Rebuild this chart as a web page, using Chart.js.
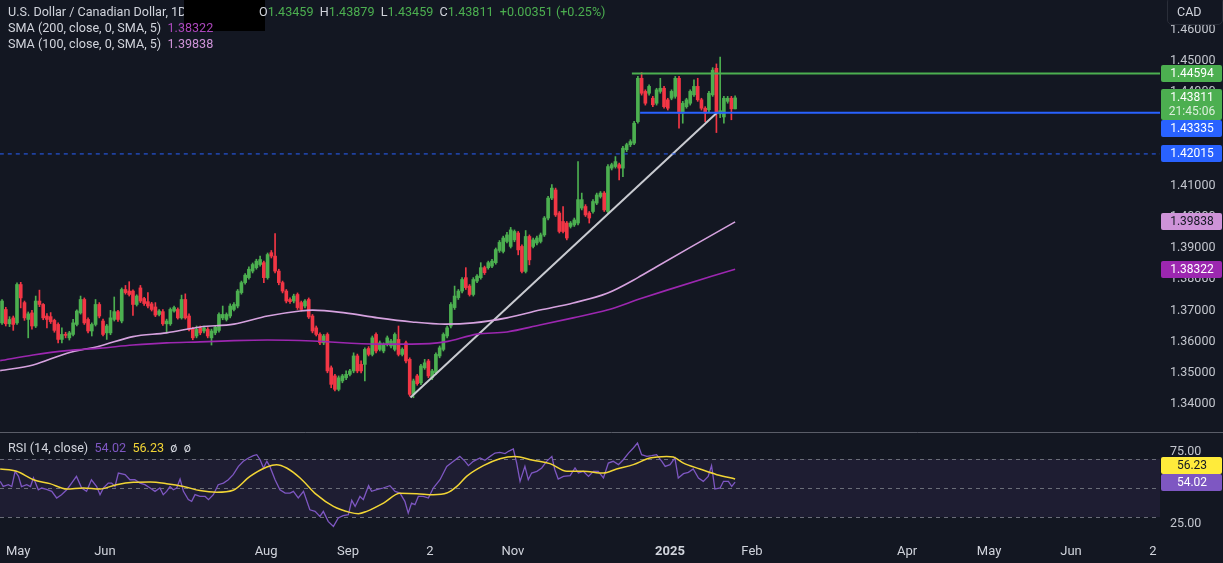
<!DOCTYPE html>
<html>
<head>
<meta charset="utf-8">
<script src="https://cdn.jsdelivr.net/npm/chart.js@4.4.1/dist/chart.umd.min.js"></script>
<style>
  body { margin: 0; background: #131722; overflow: hidden; }
  #wrap { position: relative; width: 1223px; height: 563px; }
  canvas { position: absolute; left: 0; top: 0; }
  .lg { position: absolute; left: 8px; font: 12.6px Roboto, sans-serif; color: #d1d4dc; white-space: nowrap; line-height: 16px; }
  .g { color: #4caf50; }
  .redact { position: absolute; left: 184px; top: 0; width: 81px; height: 31px; background: #000; }
  .cur { position: absolute; left: 1167px; top: -3px; width: 54px; height: 26px; border: 1px solid #2a2e39; border-radius: 5px;
         font: 12.5px Roboto, sans-serif; color: #d1d4dc; line-height: 28px; text-indent: 9px; }
</style>
</head>
<body>
<div id="wrap">
  <canvas id="chart" width="1223" height="563"></canvas>
  <div class="lg" style="top:4px">U.S. Dollar / Canadian Dollar, 1D</div>
  <div class="redact"></div>
  <div class="lg" style="top:4px;left:259px">O<span class="g">1.43459</span>&nbsp; H<span class="g">1.43879</span>&nbsp; L<span class="g">1.43459</span>&nbsp; C<span class="g">1.43811</span>&nbsp; <span class="g">+0.00351 (+0.25%)</span></div>
  <div class="lg" style="top:20px">SMA (200, close, 0, SMA, 5)&nbsp; <span style="color:#ab47bc">1.38322</span></div>
  <div class="lg" style="top:36px">SMA (100, close, 0, SMA, 5)&nbsp; <span style="color:#ce93d8">1.39838</span></div>
  <div class="lg" style="top:440px">RSI (14, close)&nbsp; <span style="color:#7e57c2">54.02</span>&nbsp; <span style="color:#f2d535">56.23</span>&nbsp; ø&nbsp; ø</div>
  <div class="cur">CAD</div>
</div>
<script>
// daily candles, first one sits at bar -4 (bar 0 = 1 May 2024)
const firstBar = -4;
const opens = [
  1.3660,1.3703,1.3657,1.3676,
  1.3660,1.3783,1.3725,1.3671,1.3692,1.3650,1.3730,1.3719,1.3682,1.3680,
  1.3668,1.3655,1.3607,1.3623,1.3612,1.3623,1.3655,1.3692,1.3735,1.3671,
  1.3634,1.3655,1.3719,1.3666,1.3628,1.3628,1.3671,1.3696,1.3666,1.3767,
  1.3762,1.3762,1.3719,1.3772,1.3738,1.3728,1.3721,1.3711,1.3687,1.3696,
  1.3657,1.3657,1.3698,1.3703,1.3676,1.3735,1.3682,1.3642,1.3618,1.3644,
  1.3634,1.3639,1.3612,1.3628,1.3636,1.3676,1.3671,1.3682,1.3703,1.3714,
  1.3757,1.3789,1.3805,1.3826,1.3837,1.3847,1.3853,1.3805,1.3885,1.3874,
  1.3826,1.3789,1.3762,1.3735,1.3730,1.3751,1.3725,1.3714,1.3735,1.3682,
  1.3644,1.3623,1.3596,1.3623,1.3516,1.3490,1.3447,1.3474,1.3484,1.3495,
  1.3506,1.3554,1.3527,1.3527,1.3578,1.3559,1.3623,1.3575,1.3570,1.3591,
  1.3586,1.3575,1.3607,1.3559,1.3596,1.3543,1.3431,1.3490,1.3468,1.3516,
  1.3538,1.3484,1.3500,1.3554,1.3575,1.3618,1.3650,1.3709,1.3741,1.3762,
  1.3805,1.3778,1.3751,1.3794,1.3805,1.3837,1.3837,1.3842,1.3853,1.3892,
  1.3889,1.3921,1.3905,1.3926,1.3948,1.3905,1.3825,1.3937,1.3905,1.3916,
  1.3921,1.3942,1.3996,1.4060,1.4086,1.4012,1.3985,1.3980,1.3969,1.3974,
  1.3980,1.4028,1.4033,1.4012,1.4017,1.4044,1.4065,1.4076,1.4017,1.4156,
  1.4161,1.4167,1.4156,1.4215,1.4231,1.4236,1.4305,1.4444,1.4402,1.4396,
  1.4380,1.4364,1.4402,1.4412,1.4375,1.4380,1.4386,1.4444,1.4332,1.4353,
  1.4364,1.4391,1.4418,1.4375,1.4348,1.4343,1.4391,1.4476,1.4330,1.4320,
  1.4370,1.4380,1.43459
];
const highs = [
  1.3735,1.3710,1.3680,1.3682,
  1.3788,1.3790,1.3730,1.3695,1.3700,1.3746,1.3765,1.3722,1.3690,1.3693,
  1.3672,1.3660,1.3644,1.3630,1.3633,1.3671,1.3702,1.3746,1.3740,1.3676,
  1.3660,1.3735,1.3725,1.3672,1.3655,1.3700,1.3743,1.3700,1.3772,1.3780,
  1.3792,1.3766,1.3750,1.3780,1.3742,1.3757,1.3726,1.3725,1.3703,1.3703,
  1.3672,1.3708,1.3714,1.3708,1.3749,1.3753,1.3689,1.3646,1.3650,1.3650,
  1.3650,1.3645,1.3640,1.3652,1.3692,1.3714,1.3692,1.3721,1.3725,1.3767,
  1.3794,1.3818,1.3840,1.3852,1.3864,1.3874,1.3858,1.3884,1.3892,1.3946,
  1.3832,1.3794,1.3767,1.3740,1.3752,1.3756,1.3730,1.3735,1.3740,1.3687,
  1.3650,1.3628,1.3623,1.3628,1.3522,1.3495,1.3490,1.3495,1.3506,1.3511,
  1.3564,1.3560,1.3538,1.3580,1.3584,1.3618,1.3628,1.3602,1.3596,1.3618,
  1.3607,1.3628,1.3650,1.3580,1.3602,1.3548,1.3480,1.3495,1.3527,1.3543,
  1.3543,1.3511,1.3564,1.3586,1.3628,1.3650,1.3725,1.3778,1.3767,1.3805,
  1.3837,1.3783,1.3805,1.3815,1.3853,1.3842,1.3858,1.3864,1.3900,1.3924,
  1.3938,1.3950,1.3966,1.3958,1.3953,1.3910,1.3956,1.3942,1.3932,1.3938,
  1.3948,1.4001,1.4066,1.4103,1.4092,1.4017,1.4033,1.3985,1.3985,1.3996,
  1.4177,1.4076,1.4039,1.4017,1.4055,1.4076,1.4081,1.4081,1.4167,1.4172,
  1.4193,1.4172,1.4226,1.4236,1.4247,1.4306,1.4450,1.4462,1.4407,1.4423,
  1.4386,1.4412,1.4444,1.4418,1.4380,1.4407,1.4450,1.4450,1.4370,1.4380,
  1.4407,1.4439,1.4444,1.4380,1.4353,1.4402,1.4478,1.4490,1.4512,1.4386,
  1.4386,1.4386,1.43879
];
const lows = [
  1.3655,1.3650,1.3648,1.3636,
  1.3655,1.3708,1.3668,1.3612,1.3640,1.3645,1.3712,1.3670,1.3644,1.3658,
  1.3630,1.3596,1.3596,1.3612,1.3605,1.3618,1.3650,1.3688,1.3655,1.3628,
  1.3618,1.3650,1.3676,1.3618,1.3607,1.3622,1.3666,1.3665,1.3660,1.3752,
  1.3746,1.3684,1.3714,1.3725,1.3716,1.3708,1.3698,1.3680,1.3682,1.3652,
  1.3628,1.3652,1.3694,1.3672,1.3672,1.3672,1.3634,1.3606,1.3612,1.3622,
  1.3628,1.3612,1.3589,1.3622,1.3630,1.3670,1.3666,1.3676,1.3698,1.3708,
  1.3752,1.3784,1.3800,1.3820,1.3832,1.3842,1.3789,1.3800,1.3868,1.3820,
  1.3782,1.3756,1.3724,1.3722,1.3724,1.3703,1.3698,1.3708,1.3674,1.3628,
  1.3618,1.3590,1.3590,1.3500,1.3452,1.3442,1.3442,1.3468,1.3478,1.3490,
  1.3500,1.3500,1.3500,1.3474,1.3554,1.3554,1.3564,1.3570,1.3564,1.3586,
  1.3580,1.3570,1.3554,1.3554,1.3532,1.3425,1.3420,1.3460,1.3462,1.3511,
  1.3484,1.3478,1.3495,1.3548,1.3570,1.3612,1.3644,1.3703,1.3735,1.3756,
  1.3767,1.3746,1.3746,1.3789,1.3800,1.3815,1.3832,1.3837,1.3848,1.3886,
  1.3884,1.3916,1.3900,1.3920,1.3878,1.3820,1.3820,1.3846,1.3900,1.3910,
  1.3916,1.3937,1.3990,1.4055,1.4001,1.3948,1.3948,1.3926,1.3964,1.3969,
  1.3974,1.4022,1.4001,1.3980,1.4012,1.4039,1.4060,1.4017,1.4012,1.4150,
  1.4156,1.4118,1.4129,1.4209,1.4225,1.4231,1.4300,1.4390,1.4358,1.4390,
  1.4353,1.4358,1.4396,1.4348,1.4342,1.4375,1.4380,1.4284,1.4300,1.4348,
  1.4358,1.4386,1.4370,1.4342,1.4305,1.4337,1.4386,1.4270,1.4318,1.4300,
  1.4364,1.4311,1.43459
];
const closes = [
  1.3730,1.3657,1.3671,1.3655,
  1.3783,1.3740,1.3676,1.3689,1.3650,1.3730,1.3719,1.3676,1.3671,1.3664,
  1.3636,1.3607,1.3623,1.3620,1.3628,1.3660,1.3698,1.3735,1.3660,1.3634,
  1.3655,1.3719,1.3682,1.3623,1.3650,1.3676,1.3696,1.3671,1.3767,1.3757,
  1.3751,1.3719,1.3746,1.3730,1.3722,1.3714,1.3703,1.3685,1.3698,1.3657,
  1.3666,1.3703,1.3709,1.3676,1.3735,1.3676,1.3639,1.3612,1.3639,1.3628,
  1.3644,1.3618,1.3634,1.3646,1.3687,1.3687,1.3687,1.3714,1.3719,1.3762,
  1.3789,1.3813,1.3832,1.3847,1.3858,1.3863,1.3805,1.3879,1.3874,1.3826,
  1.3789,1.3762,1.3730,1.3728,1.3746,1.3709,1.3703,1.3730,1.3679,1.3634,
  1.3623,1.3596,1.3618,1.3506,1.3463,1.3447,1.3484,1.3490,1.3495,1.3506,
  1.3554,1.3506,1.3506,1.3575,1.3559,1.3612,1.3570,1.3596,1.3591,1.3612,
  1.3602,1.3623,1.3559,1.3575,1.3538,1.3431,1.3474,1.3465,1.3522,1.3532,
  1.3490,1.3506,1.3559,1.3580,1.3623,1.3644,1.3719,1.3746,1.3762,1.3799,
  1.3773,1.3751,1.3799,1.3810,1.3837,1.3821,1.3853,1.3858,1.3895,1.3918,
  1.3932,1.3942,1.3958,1.3953,1.3894,1.3825,1.3937,1.3862,1.3926,1.3932,
  1.3942,1.3996,1.4060,1.4092,1.4006,1.3953,1.3953,1.3932,1.3980,1.3990,
  1.4055,1.4055,1.4006,1.3996,1.4049,1.4070,1.4076,1.4022,1.4161,1.4167,
  1.4177,1.4156,1.4220,1.4231,1.4241,1.4300,1.4444,1.4396,1.4364,1.4418,
  1.4359,1.4407,1.4412,1.4353,1.4348,1.4402,1.4444,1.4332,1.4364,1.4375,
  1.4402,1.4418,1.4375,1.4348,1.4332,1.4396,1.4470,1.4335,1.4340,1.4380,
  1.4380,1.4346,1.43811
];

// moving averages (bar position, value)
const sma100At  = [-4.5, 4.3, 13.4, 22.2, 31, 40, 49, 58, 67, 75.7, 79, 87.7, 96.5, 105.6, 114.4, 122, 131, 139.8, 148.7, 157.8, 166, 171, 180, 192];
const sma100Val = [1.3507, 1.3525, 1.3563, 1.3586, 1.3616, 1.3628, 1.3647, 1.3656, 1.3682, 1.3698, 1.3701, 1.3692, 1.3676, 1.3663, 1.3656, 1.3660, 1.3676, 1.3701, 1.3724, 1.3755, 1.3805, 1.3840, 1.3902, 1.39838];
const sma200At  = [-4.5, 4.3, 13.4, 22.2, 31, 40, 49, 58, 67, 79, 96.5, 105.6, 114.4, 123, 131, 139.8, 148.7, 157.8, 166.6, 173.8, 192];
const sma200Val = [1.3539, 1.3557, 1.3571, 1.3579, 1.3589, 1.3596, 1.3599, 1.3603, 1.3605, 1.3602, 1.3592, 1.3592, 1.3599, 1.3624, 1.3631, 1.3653, 1.3676, 1.3701, 1.3737, 1.3765, 1.38322];

// drawn levels and trend line
const levelValues = [1.44594, 1.43335, 1.42015];
const levelFrom   = [164.4, 166.6, -4.6];
const trendAt  = [105.2, 187.2];
const trendVal = [1.3421, 1.4334];

// RSI (14) and its moving average
const rsiAt = [-4.5,-3.7,-2.3,-1.4,-0.5,0.4,1.2,2.6,3.6,4.4,5.7,6.6,7.9,9.3,10.6,11.9,13.3,14.6,15.9,17.3,18.6,19.9,21.3,22.2,23.1,24.4,25.3,26.2,27.1,28.9,
  30.2,31.5,32.9,34.2,35.6,36.9,38.2,39.1,40,40.9,41.8,42.7,43.6,44.5,45.8,46.7,47.6,48.9,50.3,51.2,52.5,53.8,55.2,56.5,57.8,59.2,60.5,61.9,63.2,64.1,
  65,65.9,66.8,67.6,69,70.3,71.7,73,73.9,75.2,76.6,78.3,79.7,81,81.9,83.2,84.6,85.9,87.2,88.6,89.5,90.4,91.7,92.6,94,94.8,96.2,97.9,99.7,101.1,
  102.4,103.7,104.6,105.5,106.4,107.3,108.6,110,111.3,113.1,114.9,116.7,118.4,119.8,120.7,122,123.8,125.1,126.5,127.8,129.1,130.5,131.4,132.7,133.6,134.5,135.8,136.7,137.6,139,
  140.3,141.6,143,143.8,144.7,146.1,147.9,149.2,150.1,151.4,152.8,154.1,155.4,156.8,158.1,159.4,160.8,162.1,163.5,164.8,165.9,167,168.4,169.7,171,172.4,173.3,174.6,175.9,176.8,
  178.2,179.5,180.8,182.2,183.5,184.8,185.7,186.6,188,188.9,190.2,191.1,192];
const rsiVal = [54.6,51.1,52.3,51.0,61.5,58.0,51.0,52.3,51.0,57.0,48.8,50.0,49.0,47.7,43.1,45.4,48.8,53.4,58.0,50.0,47.7,55.7,51.0,45.4,50.0,53.4,53.4,51.0,60.3,59.2,
  55.7,55.7,53.4,52.3,50.0,47.7,50.0,45.4,47.7,51.0,48.8,50.0,56.2,47.7,42.0,40.8,45.4,44.2,44.2,42.0,45.4,52.3,53.4,55.7,59.2,64.9,68.4,70.7,72.3,73.0,
  69.5,63.8,68.4,64.9,55.7,48.8,46.5,46.5,47.7,43.1,47.7,35.0,33.9,30.4,33.9,27.0,23.5,29.3,30.9,31.6,41.5,37.3,44.2,42.0,51.6,47.7,48.8,50.0,51.6,47.7,
  46.5,40.8,32.7,39.6,38.5,44.2,44.2,43.1,50.0,55.7,64.9,68.4,71.8,68.4,65.4,68.4,70.7,69.1,71.8,74.1,74.6,73.7,75.3,76.9,67.2,54.6,64.9,55.7,60.3,61.5,
  63.8,68.4,71.8,62.6,56.2,58.0,58.5,63.8,60.3,61.5,58.0,61.5,61.5,56.9,67.2,68.4,66.1,69.5,74.1,77.6,81.0,73.0,71.8,72.3,73.0,68.4,64.9,66.1,70.7,56.9,
  59.9,60.8,63.1,56.9,54.6,58.0,65.4,49.3,50.0,54.6,54.6,51.1,54.02];
const rsiMaAt  = [-4.5,-0.1,4.4,8.8,13.3,17.7,22.2,26.6,31.1,35.6,40,44.5,48.9,53.4,57.8,62.3,66.8,69.4,72.1,75.7,80.1,84.6,89,91.3,93.5,98,102.4,
  106.9,111.3,114.9,117.6,120.2,124.7,129.1,133.1,138,142.5,147,151.4,156.8,160.3,164.8,169.2,173.7,175.5,178.2,182.6,187.1,192];
const rsiMaVal = [63.1,61.5,55.7,53.0,49.3,50.0,49.3,52.3,53.9,54.1,53.0,51.1,48.2,47.0,48.4,58.0,64.5,66.1,63.8,56.9,45.4,37.3,33.2,32.3,33.9,39.6,46.3,
  46.1,45.4,46.5,51.1,58.0,65.4,70.2,71.8,69.1,66.8,61.5,61.5,60.3,63.1,66.1,70.7,71.8,71.4,67.2,63.1,59.2,56.23];
const rsiLevels = [70, 50, 30];
const rsiTicks = [25, 50, 75];

// time axis
const tickLabels = ['May', 'Jun', 'Aug', 'Sep', '2', 'Nov', '2025', 'Feb', 'Apr', 'May', 'Jun', '2'];
const tickAt     = [0.3, 23.5, 66.6, 88.5, 110.4, 132.6, 174.6, 196.5, 238, 259.9, 281.8, 303.7];

const green = '#4caf50', red = '#f23645';
const bars = closes.map((c, k) => firstBar + k);
const candleColor = closes.map((c, k) => c >= opens[k] ? green : red);
const pts = (xs, ys) => xs.map((x, k) => ({ x, y: ys[k] }));
const X_MAX = 305.6;

const lineDs = (data, color, width, axis, extra) => Object.assign({
  type: 'line', data, borderColor: color, borderWidth: width, pointRadius: 0,
  yAxisID: axis, order: 0
}, extra || {});

const datasets = [
  { type: 'bar', data: bars.map((x, k) => ({ x, y: [lows[k], highs[k]] })), backgroundColor: candleColor,
    barThickness: 1, grouped: false, yAxisID: 'y', order: 3 },
  { type: 'bar', data: bars.map((x, k) => ({ x, y: [opens[k], closes[k]] })), backgroundColor: candleColor,
    barThickness: 3, minBarLength: 1, grouped: false, yAxisID: 'y', order: 2 },
  lineDs(pts(sma200At, sma200Val), '#9c27b0', 1.6, 'y', { cubicInterpolationMode: 'monotone' }),
  lineDs(pts(sma100At, sma100Val), '#d6a2df', 1.6, 'y', { cubicInterpolationMode: 'monotone' }),
  lineDs([{ x: levelFrom[0], y: levelValues[0] }, { x: X_MAX, y: levelValues[0] }], green, 2, 'y'),
  lineDs([{ x: levelFrom[1], y: levelValues[1] }, { x: X_MAX, y: levelValues[1] }], '#2962ff', 2, 'y'),
  lineDs([{ x: levelFrom[2], y: levelValues[2] }, { x: X_MAX, y: levelValues[2] }], '#2962ff', 1, 'y', { borderDash: [4, 4] }),
  lineDs(pts(trendAt, trendVal), '#c9cbd1', 2, 'y'),
  lineDs(pts(rsiMaAt, rsiMaVal), '#f2d535', 1.5, 'rsi', { cubicInterpolationMode: 'monotone' }),
  lineDs(pts(rsiAt, rsiVal), '#7e57c2', 1.3, 'rsi')
];

// RSI band, dashed levels and pane separator
const panes = {
  id: 'panes',
  beforeDatasetsDraw(chart) {
    const { ctx, chartArea: a, scales: { rsi } } = chart;
    const t = rsi.getPixelForValue(rsiLevels[0]), b = rsi.getPixelForValue(rsiLevels[2]);
    ctx.save();
    ctx.fillStyle = 'rgba(126,87,194,0.1)';
    ctx.fillRect(a.left, t, a.right - a.left, b - t);
    ctx.strokeStyle = '#6a6d78';
    ctx.lineWidth = 1;
    ctx.setLineDash([4, 4]);
    rsiLevels.forEach(v => {
      const y = Math.round(rsi.getPixelForValue(v)) + 0.5;
      ctx.beginPath(); ctx.moveTo(a.left, y); ctx.lineTo(a.right, y); ctx.stroke();
    });
    ctx.setLineDash([]);
    ctx.strokeStyle = '#5a5d68';
    const sy = Math.round(rsi.top) + 0.5;
    ctx.beginPath(); ctx.moveTo(0, sy); ctx.lineTo(chart.width, sy); ctx.stroke();
    ctx.restore();
  }
};

// price / value tags on the right axes
const last = closes.length - 1;
const tags = [
  { axis: 'y', v: closes[last], text: [closes[last].toFixed(5), '21:45:06'], bg: green, fg: '#ffffff', fixed: true },
  { axis: 'y', v: levelValues[0], text: [levelValues[0].toFixed(5)], bg: green, fg: '#ffffff' },
  { axis: 'y', v: levelValues[1], text: [levelValues[1].toFixed(5)], bg: '#2962ff', fg: '#ffffff' },
  { axis: 'y', v: levelValues[2], text: [levelValues[2].toFixed(5)], bg: '#2962ff', fg: '#ffffff' },
  { axis: 'y', v: sma100Val[sma100Val.length - 1], text: [sma100Val[sma100Val.length - 1].toFixed(5)], bg: '#ce93d8', fg: '#131722' },
  { axis: 'y', v: sma200Val[sma200Val.length - 1], text: [sma200Val[sma200Val.length - 1].toFixed(5)], bg: '#9c27b0', fg: '#ffffff' },
  { axis: 'rsi', v: rsiVal[rsiVal.length - 1], text: [rsiVal[rsiVal.length - 1].toFixed(2)], bg: '#7e57c2', fg: '#ffffff', fixed: true },
  { axis: 'rsi', v: rsiMaVal[rsiMaVal.length - 1], text: [rsiMaVal[rsiMaVal.length - 1].toFixed(2)], bg: '#ffeb3b', fg: '#131722' }
];
const tagPlugin = {
  id: 'tags',
  afterDraw(chart) {
    const { ctx } = chart;
    const LINE = 17, EXTRA = 14;
    const placed = [];
    const order = tags.filter(t => t.fixed).concat(tags.filter(t => !t.fixed));
    order.forEach(t => {
      const h = LINE + (t.text.length - 1) * EXTRA;
      let top = chart.scales[t.axis].getPixelForValue(t.v) - LINE / 2;
      placed.forEach(p => {
        if (p.axis === t.axis && top < p.top + p.h && top + h > p.top) {
          top = t.v > p.v ? p.top - h : p.top + p.h;
        }
      });
      placed.push({ axis: t.axis, v: t.v, top, h, t });
    });
    ctx.save();
    ctx.font = '12px Roboto, sans-serif';
    ctx.textAlign = 'center';
    ctx.textBaseline = 'middle';
    placed.forEach(p => {
      ctx.fillStyle = p.t.bg;
      ctx.beginPath();
      ctx.roundRect(1161, Math.round(p.top), 61, p.h, 2);
      ctx.fill();
      p.t.text.forEach((s, i) => {
        ctx.fillStyle = i === 0 ? p.t.fg : 'rgba(255,255,255,0.8)';
        ctx.fillText(s, 1192, Math.round(p.top) + LINE / 2 + 0.5 + i * EXTRA);
      });
    });
    ctx.restore();
  }
};

// no extra room for half-labels at the pane edges
const noPad = s => { s.paddingTop = 0; s.paddingBottom = 0; s.paddingLeft = 0; s.paddingRight = 0; };

Chart.defaults.font.family = 'Roboto, sans-serif';

new Chart(document.getElementById('chart'), {
  type: 'bar',
  data: { datasets },
  options: {
    responsive: false,
    animation: false,
    events: [],
    devicePixelRatio: 1,
    layout: { padding: 0 },
    plugins: { legend: { display: false }, tooltip: { enabled: false } },
    scales: {
      x: {
        type: 'linear', min: -4.545, max: X_MAX, offset: false,
        grid: { display: false, drawTicks: false }, border: { display: false },
        afterBuildTicks: s => { s.ticks = tickAt.map(v => ({ value: v })); },
        afterFit: s => { s.height = 27; noPad(s); },
        ticks: {
          autoSkip: false, maxRotation: 0, padding: 8, color: '#d1d4dc',
          font: c => ({ size: 13, weight: tickLabels[c.index] === '2025' ? 'bold' : 'normal' }),
          callback: (v, i) => tickLabels[i]
        }
      },
      y: {
        type: 'linear', position: 'right', stack: 'panes', stackWeight: 432,
        min: 1.331026, max: 1.469487,
        grid: { display: false, drawTicks: false }, border: { display: false },
        afterFit: s => { s.width = 63; noPad(s); },
        ticks: { stepSize: 0.01, includeBounds: false, padding: 10, color: '#c3c6ce', font: { size: 12.5 },
                 callback: v => v.toFixed(5) }
      },
      rsi: {
        type: 'linear', position: 'right', stack: 'panes', stackWeight: 104,
        min: 16.9, max: 88.62,
        grid: { display: false, drawTicks: false }, border: { display: false },
        afterFit: s => { s.width = 63; noPad(s); },
        afterBuildTicks: s => { s.ticks = rsiTicks.map(v => ({ value: v })); },
        ticks: { padding: 10, color: '#c3c6ce', font: { size: 12.5 }, callback: v => v.toFixed(2) }
      }
    }
  },
  plugins: [panes, tagPlugin]
});
</script>
</body>
</html>
